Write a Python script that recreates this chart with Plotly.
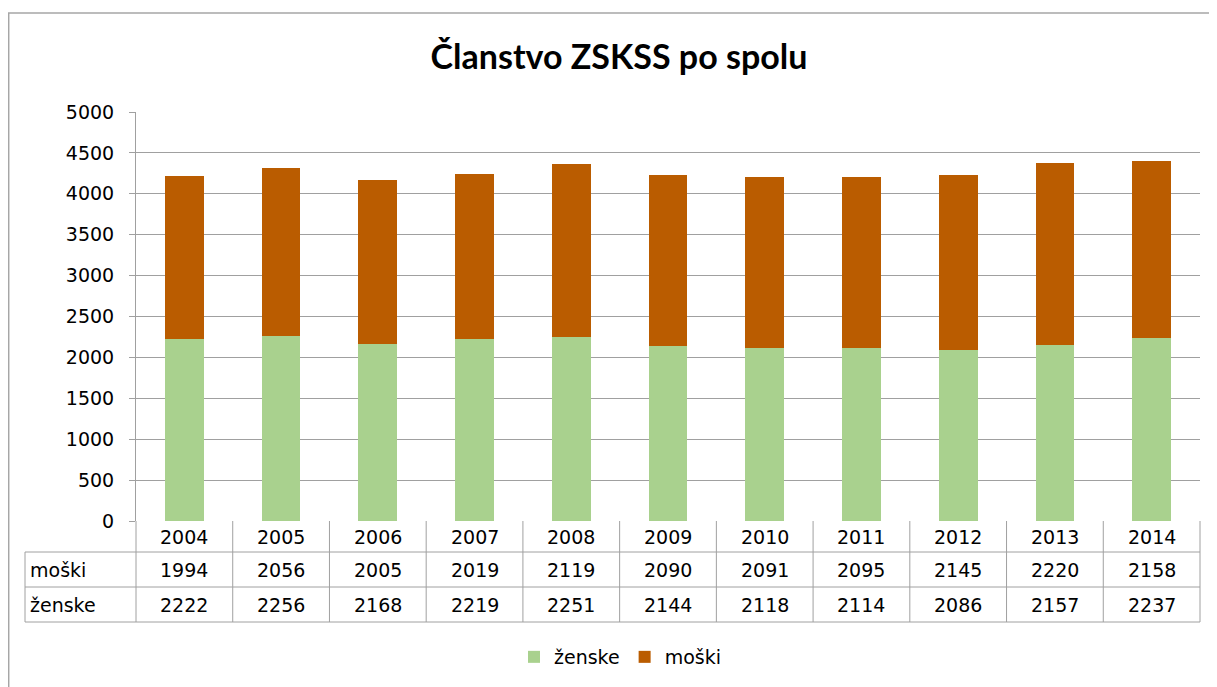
import plotly.graph_objects as go

years = ["2004", "2005", "2006", "2007", "2008", "2009", "2010", "2011", "2012", "2013", "2014"]
moski = [1994, 2056, 2005, 2019, 2119, 2090, 2091, 2095, 2145, 2220, 2158]
zenske = [2222, 2256, 2168, 2219, 2251, 2144, 2118, 2114, 2086, 2157, 2237]
title = "Članstvo ZSKSS po spolu"
y_ticks = list(range(0, 5001, 500))

W, H = 1217, 687
OFF = 8  # page body margin
L, R, T, B = 136 - OFF, 1200 - OFF, 112 - OFF, 521 - OFF  # plot area in figure pixels
GREEN = "#A9D18E"
BROWN = "#BA5C00"
GRID = "#A0A0A0"
FONT = "DejaVu Sans"
TITLE_FONT = "Lato"

def px(x):
    return (x - L) / (R - L)

def py(y):
    return (B - y) / (B - T)

fig = go.Figure()
fig.add_trace(go.Bar(x=years, y=zenske, name="ženske", marker=dict(color=GREEN, line=dict(width=0)), width=0.4))
fig.add_trace(go.Bar(x=years, y=moski, name="moški", marker=dict(color=BROWN, line=dict(width=0)), width=0.4))

shapes = []
line = dict(color=GRID, width=1)
# chart border (left and top)
shapes.append(dict(type="line", xref="paper", yref="paper", x0=px(0.7), x1=px(0.7), y0=py(5), y1=py(H + 20), line=dict(color="#A6A6A6", width=1.5)))
shapes.append(dict(type="line", xref="paper", yref="paper", x0=px(0), x1=px(W + 20), y0=py(5), y1=py(5), line=dict(color="#A6A6A6", width=1.5)))
# table horizontal lines
row_y = [552 - OFF, 587 - OFF, 622 - OFF]
for yy in row_y:
    shapes.append(dict(type="line", xref="paper", yref="paper", x0=px(25 - OFF), x1=px(R), y0=py(yy), y1=py(yy), line=line))
# vertical lines
shapes.append(dict(type="line", xref="paper", yref="paper", x0=px(25 - OFF), x1=px(25 - OFF), y0=py(552 - OFF), y1=py(622 - OFF), line=line))
n = len(years)
for i in range(n + 1):
    xx = L + (R - L) * i / n
    shapes.append(dict(type="line", xref="paper", yref="paper", x0=px(xx), x1=px(xx), y0=py(B), y1=py(622 - OFF), line=line))

annotations = []
tfont = dict(family=FONT, size=19, color="#000000")
lfont = dict(family=FONT, size=19, color="#000000")
rows = [("", years, 537 - OFF), ("moški", moski, 570 - OFF), ("ženske", zenske, 605 - OFF)]
for label, vals, yc in rows:
    if label:
        annotations.append(dict(text=label, xref="paper", yref="paper", x=px(28 - OFF), y=py(yc), xanchor="left", yanchor="middle", showarrow=False, font=lfont))
    for i, v in enumerate(vals):
        xc = L + (R - L) * (i + 0.5) / n
        annotations.append(dict(text=str(v), xref="paper", yref="paper", x=px(xc), y=py(yc), xanchor="center", yanchor="middle", showarrow=False, font=tfont))

fig.update_layout(
    width=W, height=H,
    margin=dict(l=L, r=W - R, t=T, b=H - B, pad=0),
    paper_bgcolor="white", plot_bgcolor="white",
    barmode="stack",
    title=dict(text="<b>" + title + "</b>", x=(619 - OFF) / W, xanchor="center", y=1 - (57 - OFF) / H, yanchor="middle",
               font=dict(family=TITLE_FONT, size=34, color="#000000")),
    xaxis=dict(showticklabels=False, showgrid=False, ticks="", showline=False, zeroline=False, range=[-0.5, n - 0.5]),
    yaxis=dict(range=[0, 5000], tickvals=y_ticks, showgrid=True, gridcolor=GRID, gridwidth=1,
               showline=True, linecolor=GRID, linewidth=1, ticks="outside", ticklen=6, tickcolor=GRID,
               tickfont=dict(family=FONT, size=19, color="#000000"), zeroline=False, ticklabelstandoff=11),
    legend=dict(orientation="h", x=px(514 - OFF), xanchor="left", y=py(657 - OFF), yanchor="middle", traceorder="normal",
                font=dict(family=FONT, size=19, color="#000000"), itemwidth=30),
    shapes=shapes,
    annotations=annotations,
)

fig.write_html("out.html")
